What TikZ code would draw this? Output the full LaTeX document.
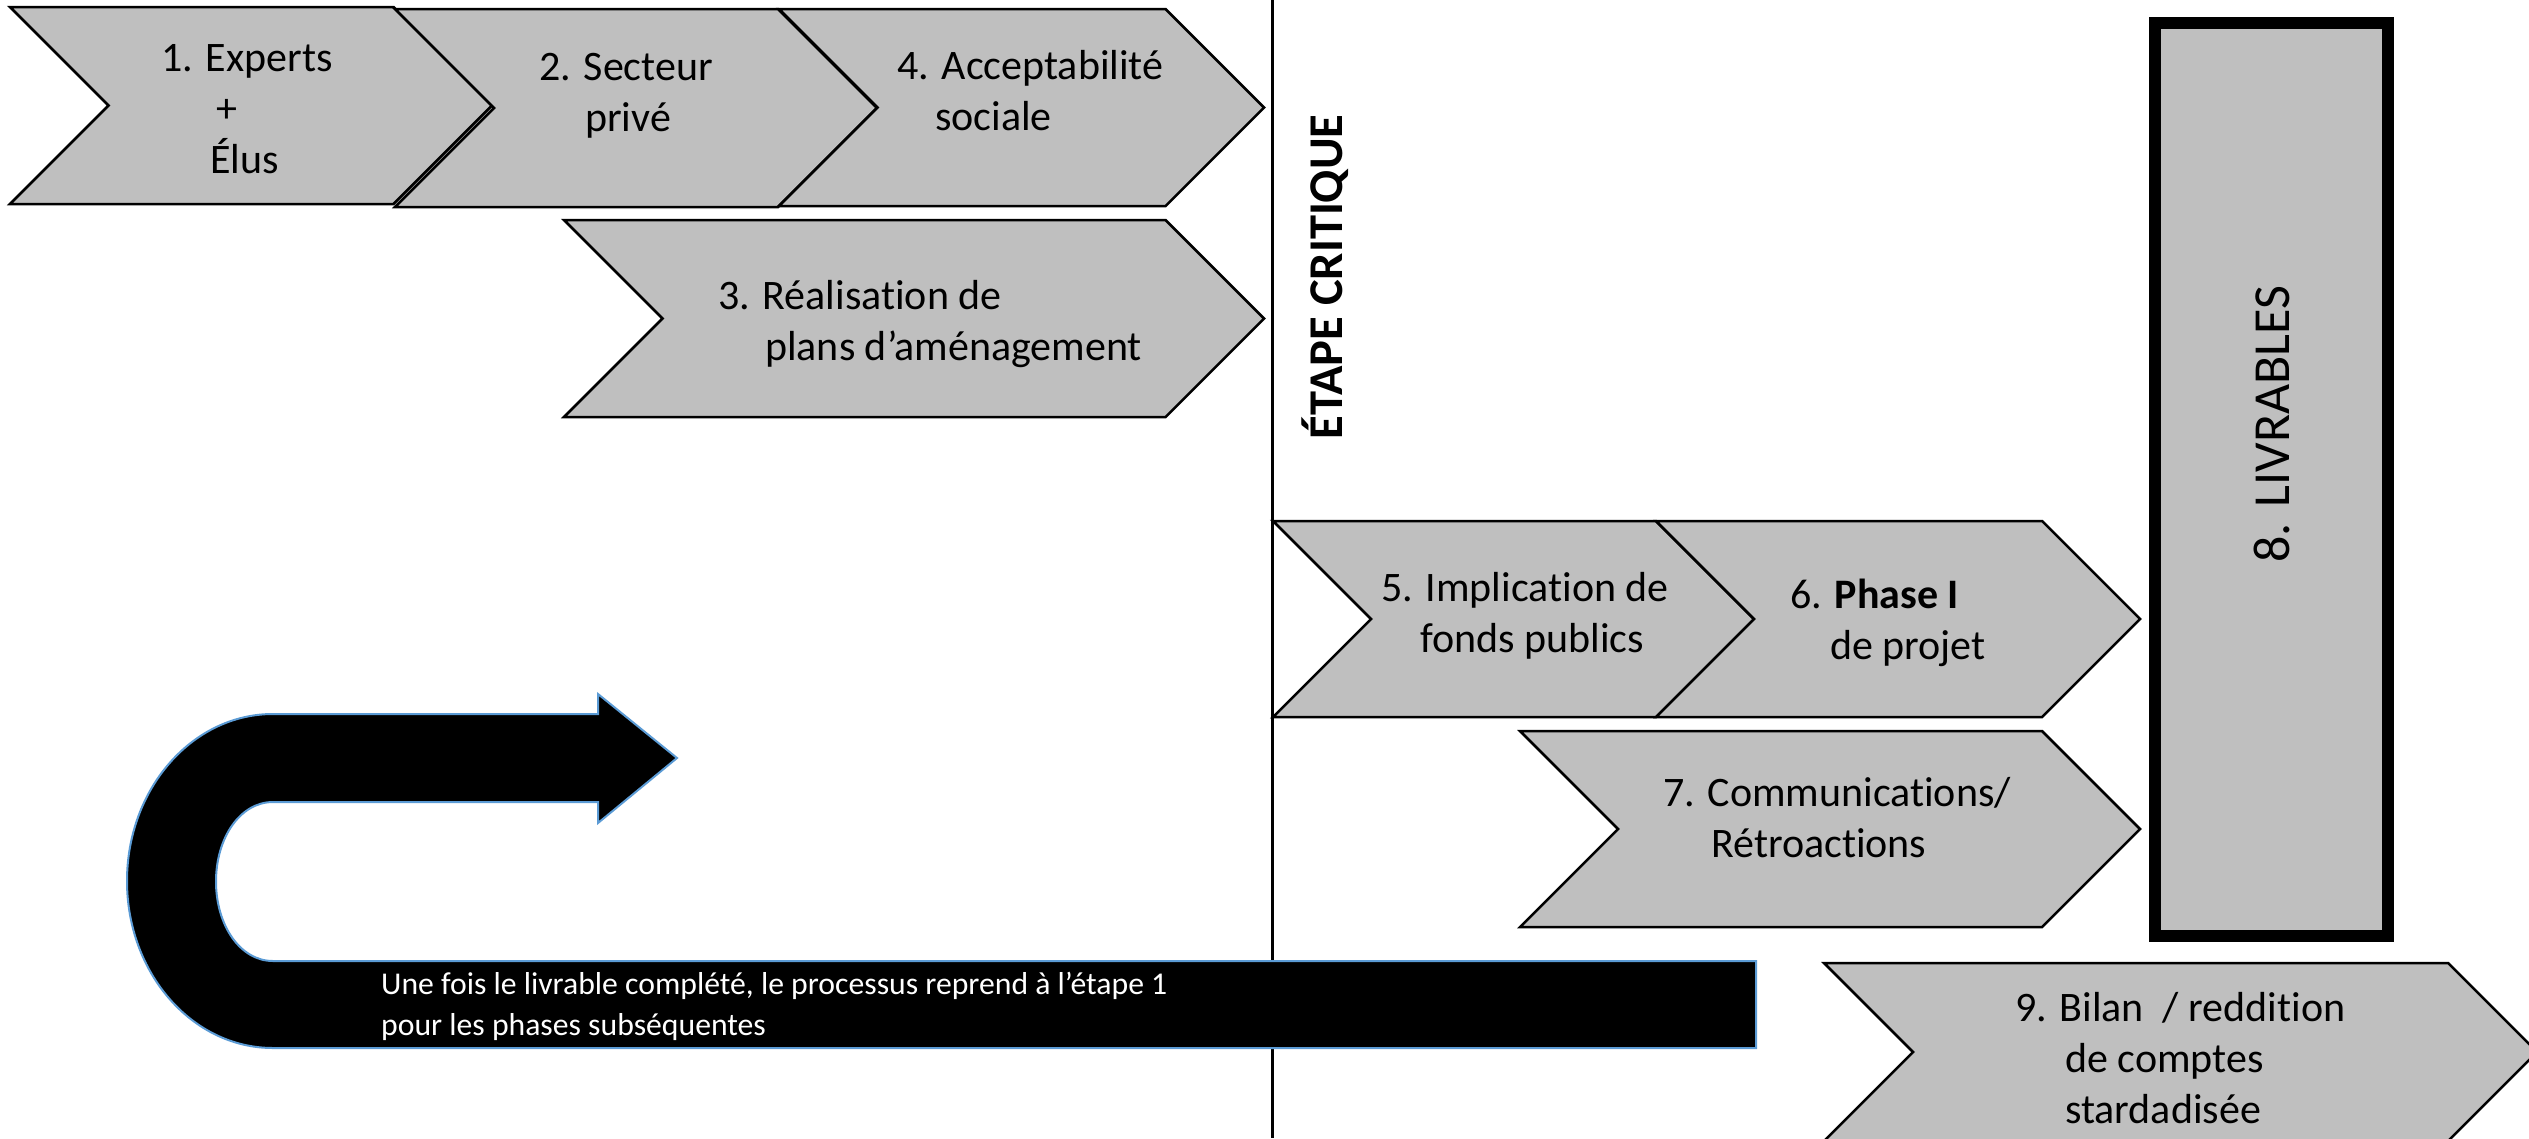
\documentclass[tikz,border=0pt]{standalone}
\usepackage{fontspec}
\setmainfont[Ligatures=NoCommon]{Carlito}

\definecolor{chevgray}{RGB}{191,191,191}
\definecolor{loopblue}{RGB}{91,155,213}

% chevron: left x, top y, tip x, bottom y
\newcommand{\chevronshape}[4]{%
  \path[chev] (#1,#2) -- ({#3-(#4-#2)/2},#2) -- (#3,{(#2+#4)/2})
    -- ({#3-(#4-#2)/2},#4) -- (#1,#4) -- ({#1+(#4-#2)/2},{(#2+#4)/2}) -- cycle;}

\begin{document}
\begin{tikzpicture}[
            x=1pt, y=-1pt,
            chev/.style={fill=chevgray, draw=black, line width=2.5pt, line join=miter},
            steptext/.style={anchor=base west, align=left, inner sep=0pt, font=\fontsize{42}{51}\selectfont},
            livbox/.style={draw=black, fill=chevgray, line width=12pt, minimum width=233pt, minimum height=913pt, inner sep=0pt},
            retour/.style={fill=black, draw=loopblue, line width=2pt}
        ]
        \clip (0,0) rectangle (2529,1138);

        % Ligne de l'etape critique
        \coordinate (crit top) at (1272,0);
        \coordinate (crit bottom) at (1272,1138);
        \draw[line width=3pt] (crit top) -- (crit bottom);

        % Chevrons
        \chevronshape{10}{7}{492}{204}
        \chevronshape{395}{9}{877}{207}
        \chevronshape{779}{9}{1264}{206}
        \chevronshape{564}{220}{1264}{417}
        \chevronshape{1273}{521}{1754}{717}
        \chevronshape{1656}{521}{2140}{717}
        \chevronshape{1520}{731}{2140}{927}
        \chevronshape{1824}{963}{2537}{1141}

        % Livrables
        \node[livbox] (livrables) at (2271.5,479.5) {};
        \node[rotate=90, inner sep=0pt, font=\fontsize{52}{62}\selectfont] (livtxt) at (2272,424) {8. LIVRABLES};

        % Etape critique
        \node[rotate=90, inner sep=0pt, font=\bfseries\fontsize{48.5}{58}\selectfont] (etape) at (1325,277) {ÉTAPE CRITIQUE};

        % Retour (fleche en U)
        \path[retour] (677,758) -- (598,694) -- (598,714) -- (273,714)
            .. controls (192,714) and (127,789) .. (127,881)
            .. controls (127,973) and (192,1048) .. (273,1048)
            -- (1756,1048) -- (1756,961) -- (273,961)
            .. controls (240,961) and (216,925) .. (216,881.5)
            .. controls (216,838) and (240,802) .. (273,802)
            -- (598,802) -- (598,823) -- cycle;
        \node[anchor=base west, align=left, inner sep=0pt, text=white, font=\fontsize{31.7}{41}\selectfont] (retourtxt) at (381,1035)
            {Une fois le livrable complété, le processus reprend à l’étape 1\\pour les phases subséquentes};

        % Textes des etapes (ancre sur la derniere ligne)
        \node[steptext] (experts) at (161,173) {1. Experts\\\hspace*{55pt}+\\\hspace*{49pt}Élus};
        \node[steptext] (prive) at (539,131) {2. Secteur\\\hspace*{46pt}privé};
        \node[steptext] (accept) at (897,130) {4. Acceptabilité\\\hspace*{38pt}sociale};
        \node[steptext] (plans) at (718,360) {3. Réalisation de\\\hspace*{47pt}plans d’aménagement};
        \node[steptext] (fonds) at (1381,652) {5. Implication de\\\hspace*{39pt}fonds publics};
        \node[steptext] (phase) at (1790,659) {6. \textbf{Phase I}\\\hspace*{40pt}de projet};
        \node[steptext] (comm) at (1663,857) {7. Communications/\\\hspace*{48pt}Rétroactions};
        \node[steptext] (bilan) at (2015,1123) {9. Bilan\ \ / reddition\\\hspace*{50pt}de comptes\\\hspace*{50pt}stardadisée};

    \end{tikzpicture}
\end{document}
